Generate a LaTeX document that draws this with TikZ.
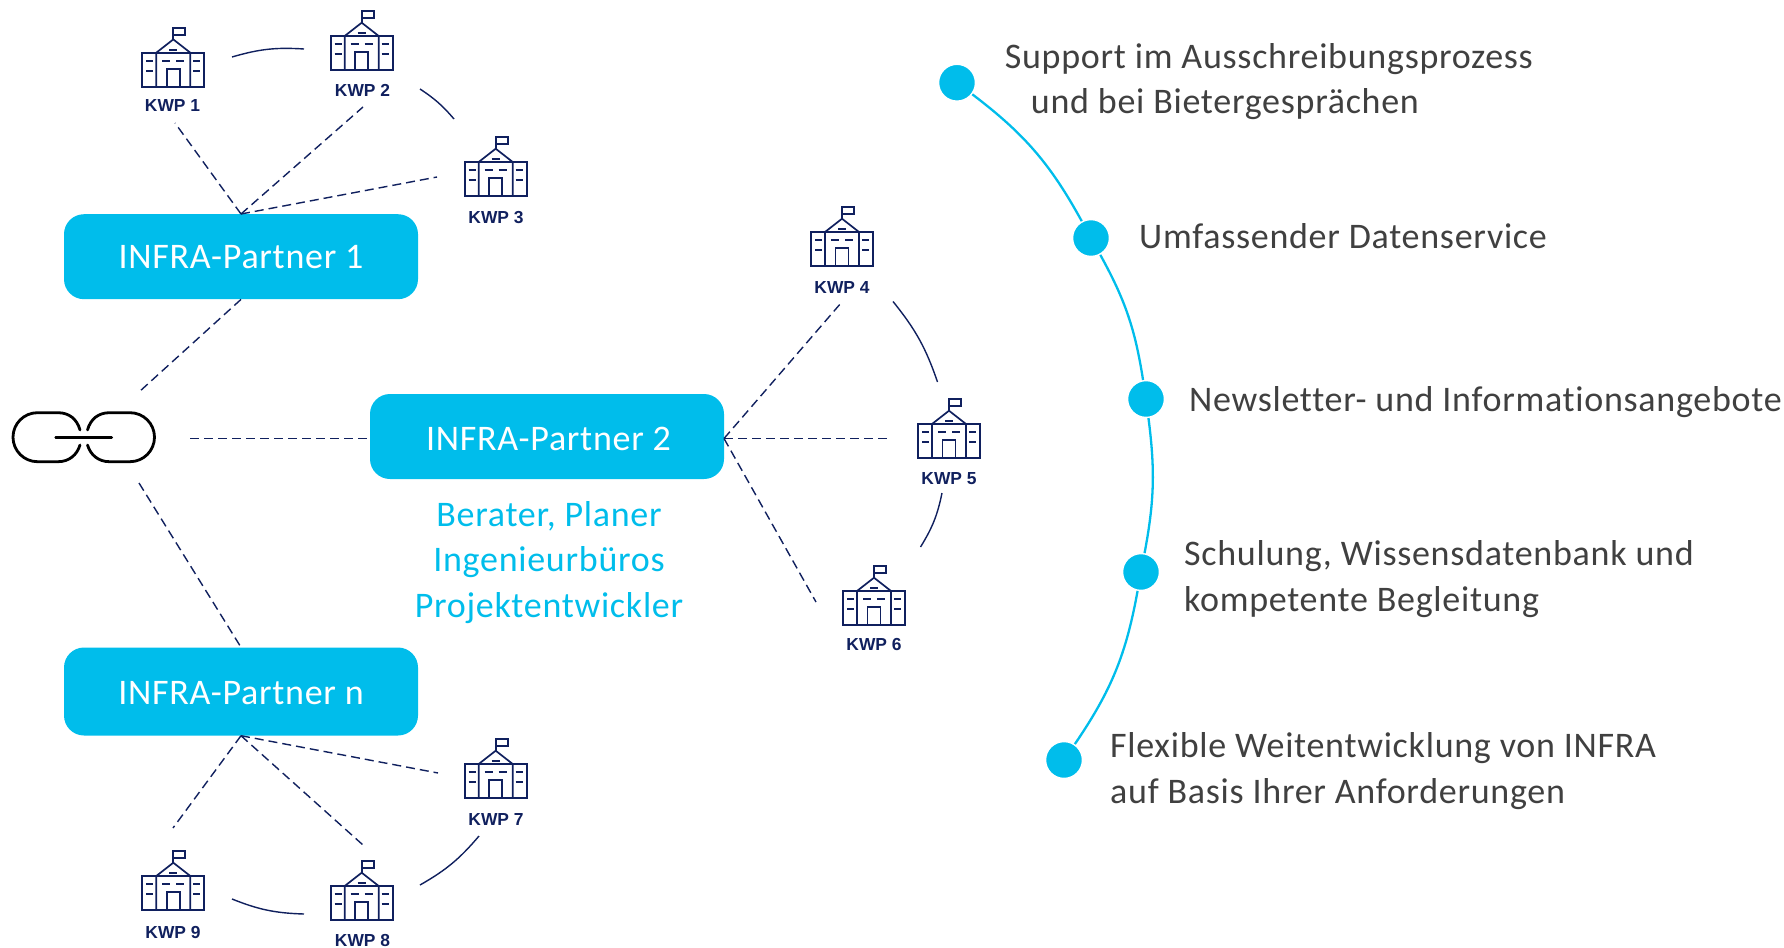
\documentclass[tikz,border=0pt]{standalone}
\usepackage{fontspec}
\setmainfont{Carlito}[Ligatures=NoCommon,LetterSpace=2]
\newfontfamily\kwpfont{Liberation Sans}
\definecolor{navy}{HTML}{10205E}
\definecolor{infra}{HTML}{00BDEB}
\definecolor{txt}{HTML}{404040}
\tikzset{
  partner/.style={fill=infra,rounded corners=20pt,minimum width=354pt,minimum height=85pt,inner sep=0pt,text=white},
  ptext/.style={text=white,inner sep=0pt,font=\fontsize{36}{42}\selectfont},
  kwplabel/.style={text=navy,inner sep=0pt,font=\kwpfont\bfseries\fontsize{17.4}{20}\selectfont},
  link/.style={draw=navy,line width=1.4pt,dash pattern=on 9pt off 5pt},
  arcline/.style={draw=navy,line width=1.4pt},
  dot/.style={circle,fill=infra,draw=white,line width=1.5pt,minimum size=37pt,inner sep=0pt},
  timeline/.style={draw=infra,line width=2.3pt},
  offer/.style={text=txt,inner sep=0pt,align=left,font=\fontsize{36}{45.5}\selectfont},
  sub/.style={text=infra,inner sep=0pt,align=center,font=\fontsize{36}{45.5}\selectfont},
  school/.pic={
    \begin{scope}[draw=navy,line width=1.7pt]
      \draw (-31,0) rectangle (31,-34);
      \draw (-17,0) -- (-17,-34) -- (0,-47.3) -- (17,-34) -- (17,0);
      \draw (-6.5,0) -- (-6.5,-18) -- (6.5,-18) -- (6.5,0);
      \draw (0,-47.3) -- (0,-59) -- (12,-59) -- (12,-52) -- (0,-52);
      \draw (-4,-36.7) -- (4,-36.7);
      \draw (-11,-26) -- (-3,-26) (3,-26) -- (11,-26);
      \draw (-27,-26) -- (-20,-26) (-27,-16) -- (-20,-16);
      \draw (20,-26) -- (27,-26) (20,-16) -- (27,-16);
    \end{scope}
  }
}
\begin{document}
\begin{tikzpicture}[x=1pt,y=-1pt]
\useasboundingbox (0,0) rectangle (1784,947);
% partners
\node[partner] (p1) at (241,256.7) {};
\node[partner] (p2) at (547,436.5) {};
\node[partner,minimum height=88pt] (pn) at (241,691.5) {};
\node[ptext] (p1t) at (241,257.5) {INFRA-Partner 1};
\node[ptext] (p2t) at (548.5,438.5) {INFRA-Partner 2};
\node[ptext] (pnt) at (241,693) {INFRA-Partner n};
% schools
\pic (s1) at (173.3,86.7) {school};
\pic (s2) at (361.7,70) {school};
\pic (s3) at (495.7,196) {school};
\pic (s4) at (842,266) {school};
\pic (s5) at (949,458) {school};
\pic (s6) at (874,625) {school};
\pic (s7) at (495.7,798) {school};
\pic (s8) at (361.7,920) {school};
\pic (s9) at (173.3,910) {school};
\node[kwplabel] (k1) at (172.5,106) {KWP 1};
\node[kwplabel] (k2) at (362.5,90) {KWP 2};
\node[kwplabel] (k3) at (496,217.5) {KWP 3};
\node[kwplabel] (k4) at (842,287.5) {KWP 4};
\node[kwplabel] (k5) at (949,478.5) {KWP 5};
\node[kwplabel] (k6) at (874,644.5) {KWP 6};
\node[kwplabel] (k7) at (496,819.5) {KWP 7};
\node[kwplabel] (k8) at (362.5,940) {KWP 8};
\node[kwplabel] (k9) at (173,932) {KWP 9};
% free ends
\coordinate (e1) at (175,123);
\coordinate (e2) at (363,107);
\coordinate (e3) at (437,177);
\coordinate (e4) at (841,303);
\coordinate (e5) at (890,438.5);
\coordinate (e6) at (816,602);
\coordinate (e7) at (438,773);
\coordinate (e8) at (363,845);
\coordinate (e9) at (173,828);
\coordinate (l1) at (139,392);
\coordinate (l2) at (190,438.5);
\coordinate (l3) at (139,483);
\coordinate (p2e) at (724,438.5);
\coordinate (p2w) at (370,438.5);
% dashed
\draw[link] (p1.north) -- (e1);
\draw[link] (p1.north) -- (e2);
\draw[link] (p1.north) -- (e3);
\draw[link] (p1.south) -- (l1);
\draw[link] (l2) -- (p2w);
\draw[link] (l3) -- (pn.north);
\draw[link] (p2e) -- (e4);
\draw[link] (p2e) -- (e5);
\draw[link] (p2e) -- (e6);
\draw[link] (pn.south) -- (e7);
\draw[link] (pn.south) -- (e8);
\draw[link] (pn.south) -- (e9);
% arcs
\coordinate (a1) at (232,57); \coordinate (a2) at (304,49);
\coordinate (b1) at (420,89); \coordinate (b2) at (454,119);
\coordinate (c1) at (893,301.5); \coordinate (c2) at (937.5,382);
\coordinate (d1) at (942,493); \coordinate (d2) at (920.5,547);
\coordinate (f1) at (479,836); \coordinate (f2) at (420,885);
\coordinate (g1) at (304,914); \coordinate (g2) at (232,899);
\draw[arcline] (a1) to[bend left=10] (a2);
\draw[arcline] (b1) to[bend left=8] (b2);
\draw[arcline] (c1) to[bend left=10] (c2);
\draw[arcline] (d1) to[bend left=10] (d2);
\draw[arcline] (f1) to[bend left=10] (f2);
\draw[arcline] (g1) to[bend left=10] (g2);
% chain link
\draw[black,line width=2.8pt,line cap=round]
  (80,430) .. controls (77,419) and (69,412.7) .. (58,412.7) -- (37.5,412.7)
  .. controls (24,412.7) and (13,423.6) .. (13,437.2)
  .. controls (13,450.7) and (24,461.7) .. (37.5,461.7) -- (58,461.7)
  .. controls (69,461.7) and (77,455) .. (80,445);
\draw[black,line width=2.8pt,line cap=round]
  (87.5,430) .. controls (90.5,419) and (98.5,412.7) .. (109.5,412.7) -- (130,412.7)
  .. controls (143.5,412.7) and (154.5,423.6) .. (154.5,437.2)
  .. controls (154.5,450.7) and (143.5,461.7) .. (130,461.7) -- (109.5,461.7)
  .. controls (98.5,461.7) and (90.5,455) .. (87.5,445);
\draw[black,line width=2.8pt,line cap=round] (55.7,437.3) -- (111.7,437.3);
% subtitle
\node[sub] (subtext) at (549,562.5) {Berater, Planer\\Ingenieurbüros\\Projektentwickler};
% timeline
\node[dot] (t1) at (957,82.7) {};
\node[dot] (t2) at (1091,238) {};
\node[dot] (t3) at (1146,399) {};
\node[dot] (t4) at (1141,572) {};
\node[dot] (t5) at (1064,760) {};
\draw[timeline] (t1) to[bend left=12] (t2);
\draw[timeline] (t2) to[bend left=10] (t3);
\draw[timeline] (t3) to[bend left=9] (t4);
\draw[timeline] (t4) to[bend left=12] (t5);
% offers
\node[offer,anchor=west] (o1) at (1004.7,81.5) {Support im Ausschreibungsprozess\\\hspace*{26pt}und bei Bietergesprächen};
\node[offer,anchor=west] (o2) at (1139,236) {Umfassender Datenservice};
\node[offer,anchor=west] (o3) at (1189,402) {Newsletter- und Informationsangebote};
\node[offer,anchor=west] (o4) at (1184,579) {Schulung, Wissensdatenbank und\\kompetente Begleitung};
\node[offer,anchor=west] (o5) at (1110,771) {Flexible Weitentwicklung von INFRA\\auf Basis Ihrer Anforderungen};
\end{tikzpicture}
\end{document}
